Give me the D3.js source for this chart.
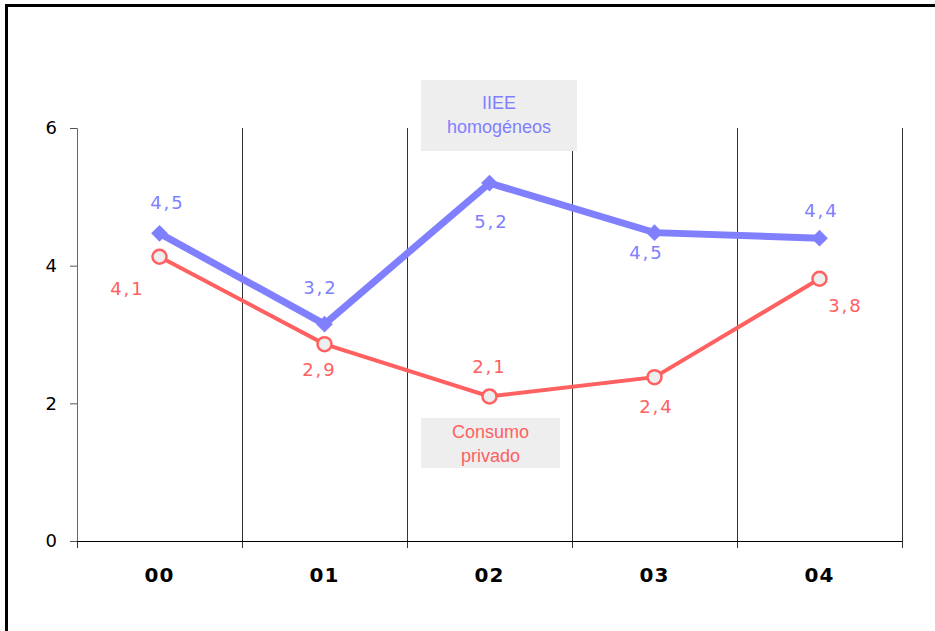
<!DOCTYPE html>
<html><head><meta charset="utf-8">
<script src="https://cdn.jsdelivr.net/npm/d3@7"></script>
<style>body{margin:0;background:#fff}svg{display:block}</style>
</head><body><svg id="c" width="935" height="631"></svg>
<script>
const categories = ["00","01","02","03","04"];
const iieeValues = [4.47, 3.15, 5.2, 4.48, 4.4];
const consumoValues = [4.13, 2.86, 2.1, 2.38, 3.81];
const iieeLabels = ["4,5","3,2","5,2","4,5","4,4"];
const consumoLabels = ["4,1","2,9","2,1","2,4","3,8"];
const yTicks = [0,2,4,6];

const svg = d3.select("#c");
const font = "DejaVu Sans, Verdana, sans-serif";
const lfont = "Liberation Sans, Arial, sans-serif";
const blue = "#8080FF", red = "#FF6060";

// frame
svg.append("path").attr("d","M6.5,631 V5.5 H935").attr("fill","none").attr("stroke","#000").attr("stroke-width",3);

const x = d3.scaleBand().domain(categories).range([77,902]);
const y = d3.scaleLinear().domain([0,6]).range([541,128]);

// vertical grid lines at band boundaries
const bounds = categories.map(c => x(c) + x.bandwidth());
svg.append("g").selectAll("line").data(bounds).join("line")
  .attr("x1",d=>d).attr("x2",d=>d).attr("y1",y(6)).attr("y2",548)
  .attr("stroke","#333").attr("stroke-width",1).attr("shape-rendering","crispEdges");
svg.append("line").attr("x1",77).attr("x2",77).attr("y1",541).attr("y2",548)
  .attr("stroke","#333").attr("shape-rendering","crispEdges");

// y axis
const ya = svg.append("g").attr("transform","translate(77,0)")
  .call(d3.axisLeft(y).tickValues(yTicks).tickFormat(d3.format("d")).tickSize(7).tickPadding(13));
ya.select(".domain").attr("stroke","#666");
ya.selectAll(".tick line").attr("stroke","#555");
ya.selectAll("text").attr("font-family",font).attr("font-size",18).attr("fill","#000");

// x axis line
svg.append("line").attr("x1",77).attr("x2",902).attr("y1",541).attr("y2",541).attr("stroke","#000").attr("shape-rendering","crispEdges");
svg.append("g").selectAll("text").data(categories).join("text")
  .attr("x",d=>x(d)+x.bandwidth()/2).attr("y",582).attr("text-anchor","middle")
  .attr("font-family",font).attr("font-size",20).attr("font-weight","bold").attr("letter-spacing",1).text(d=>d);

const cx = c => x(c)+x.bandwidth()/2;
const line = d3.line().x((d,i)=>cx(categories[i])).y(d=>y(d));

// red line
svg.append("path").datum(consumoValues).attr("d",line).attr("fill","none").attr("stroke",red).attr("stroke-width",4);
// blue line
svg.append("path").datum(iieeValues).attr("d",line).attr("fill","none").attr("stroke",blue).attr("stroke-width",7).attr("stroke-linejoin","miter");

svg.append("g").selectAll("path").data(iieeValues).join("path")
  .attr("d",d3.symbol(d3.symbolSquare,140))
  .attr("transform",(d,i)=>`translate(${cx(categories[i])},${y(d)}) rotate(45)`)
  .attr("fill",blue);
svg.append("g").selectAll("circle").data(consumoValues).join("circle")
  .attr("cx",(d,i)=>cx(categories[i])).attr("cy",d=>y(d)).attr("r",7)
  .attr("fill","#eeeeee").attr("stroke",red).attr("stroke-width",2.5);

// data labels
const iieeOff = [[8,-24],[-4,-30],[2,45],[-8,26],[2,-21]];
const consumoOff = [[-32,38],[-5,32],[0,-23],[2,36],[26,33]];
svg.append("g").selectAll("text").data(iieeValues).join("text")
  .attr("x",(d,i)=>cx(categories[i])+iieeOff[i][0]).attr("y",(d,i)=>y(d)+iieeOff[i][1])
  .attr("text-anchor","middle").attr("font-family",font).attr("font-size",18).attr("fill",blue)
  .attr("letter-spacing",2).text((d,i)=>iieeLabels[i]);
svg.append("g").selectAll("text").data(consumoValues).join("text")
  .attr("x",(d,i)=>cx(categories[i])+consumoOff[i][0]).attr("y",(d,i)=>y(d)+consumoOff[i][1])
  .attr("text-anchor","middle").attr("font-family",font).attr("font-size",18).attr("fill",red)
  .attr("letter-spacing",2).text((d,i)=>consumoLabels[i]);

// legend boxes
function box(x0,y0,w,h,lines,color,b0){
  svg.append("rect").attr("x",x0).attr("y",y0).attr("width",w).attr("height",h).attr("fill","#eeeeee");
  lines.forEach((t,i)=>svg.append("text").attr("x",x0+w/2).attr("y",b0+i*23.5)
    .attr("text-anchor","middle").attr("font-family",lfont).attr("font-size",18).attr("fill",color).text(t));
}
box(421,80,156,71,["IIEE","homogéneos"],blue,109);
box(421,418,139,50,["Consumo","privado"],red,438);
</script></body></html>
